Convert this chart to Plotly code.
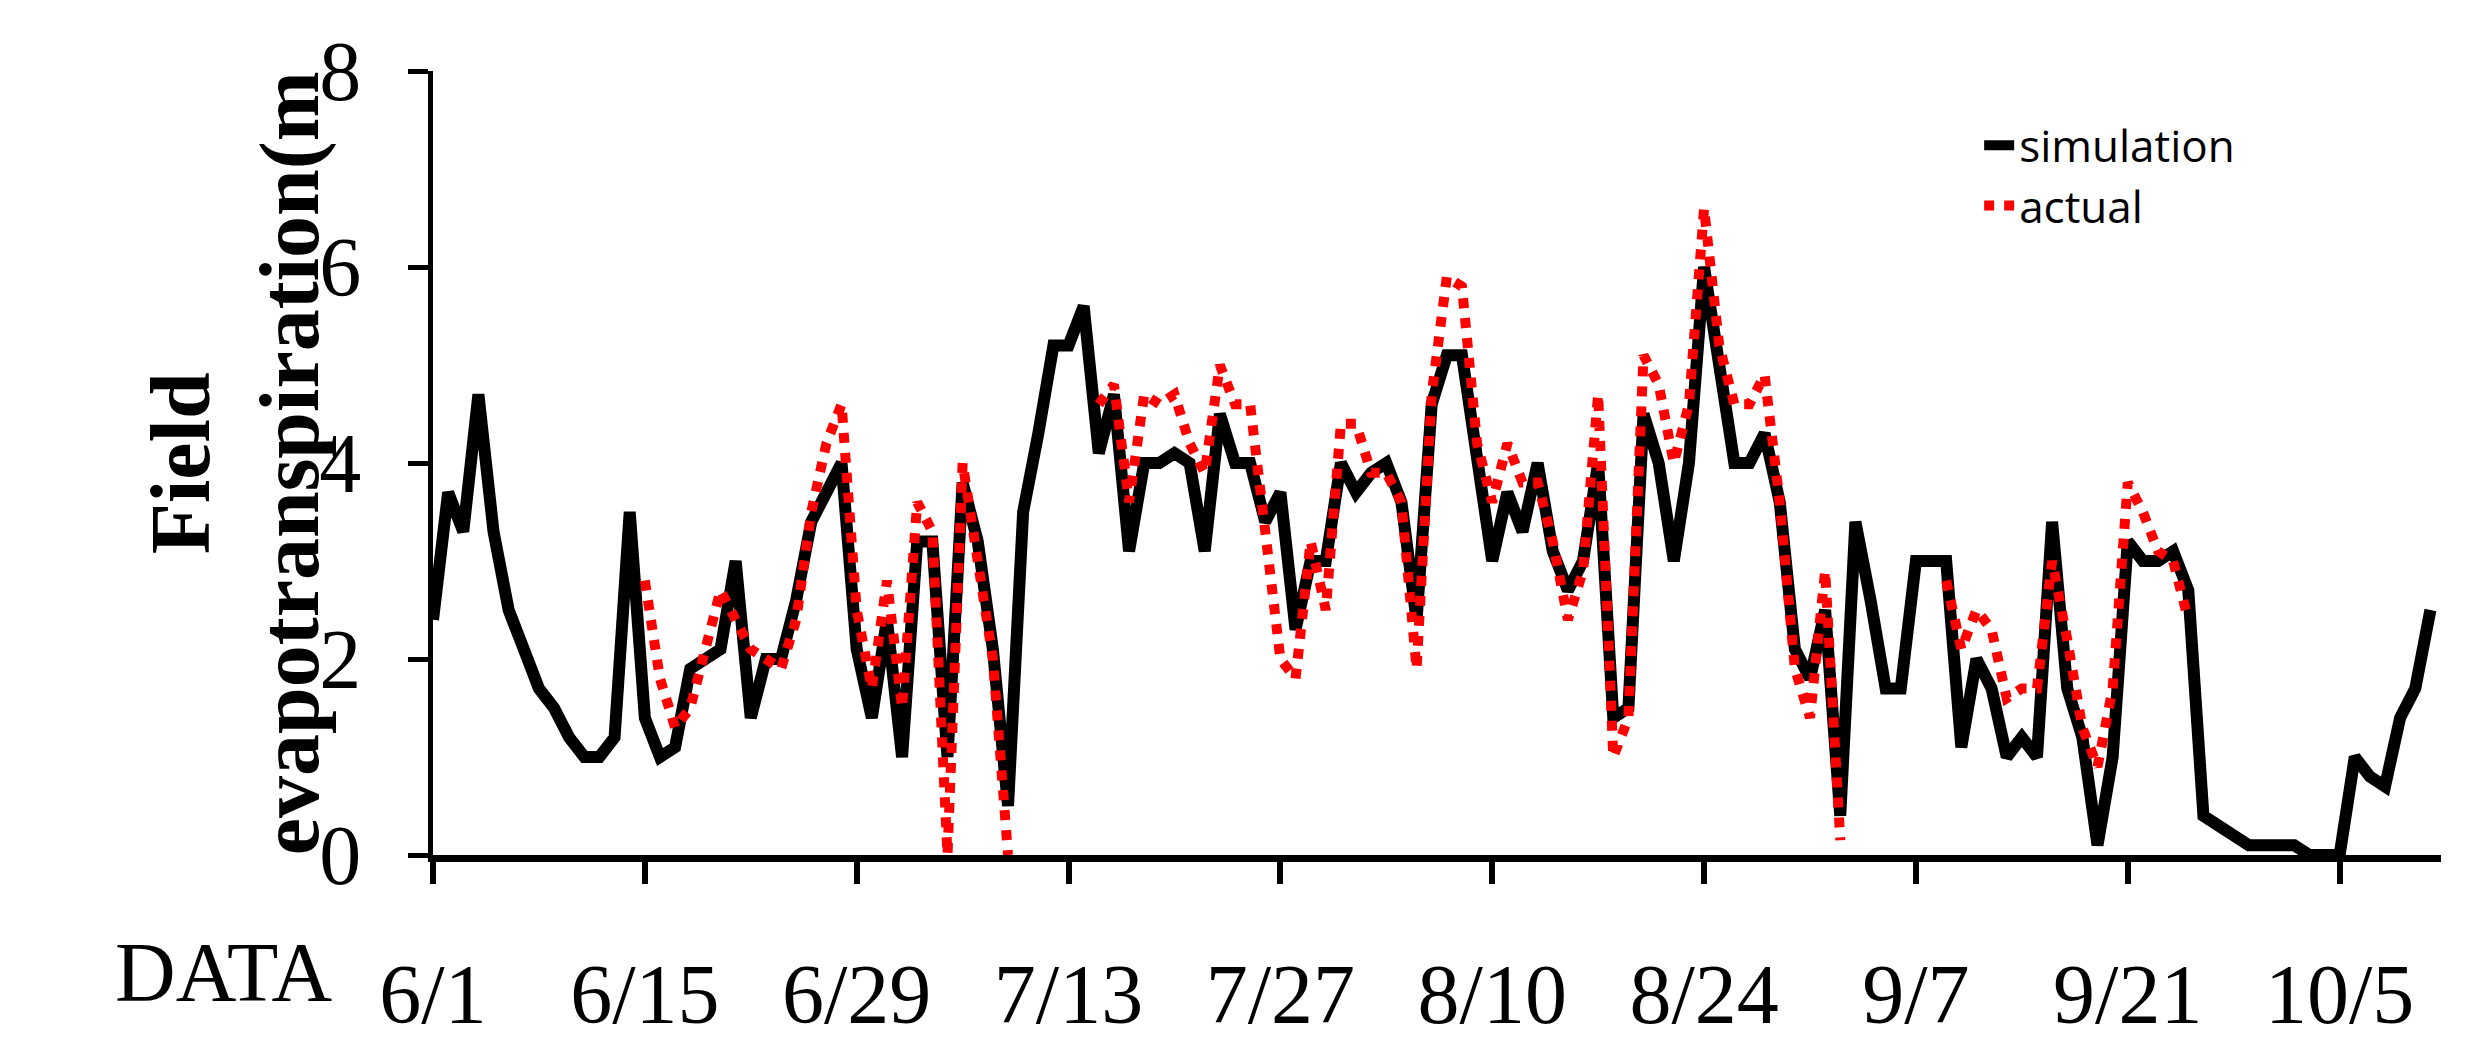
import plotly.graph_objects as go

days = list(range(133))
simulation = [2.4,3.7,3.3,4.7,3.3,2.5,2.1,1.7,1.5,1.2,1.0,1.0,1.2,3.5,1.4,1.0,1.1,1.9,2.0,2.1,
              3.0,1.4,2.0,2.0,2.6,3.4,3.7,4.0,2.1,1.4,2.4,1.0,3.2,3.2,1.0,3.8,3.2,2.1,0.5,3.5,
              4.3,5.2,5.2,5.6,4.1,4.7,3.1,4.0,4.0,4.1,4.0,3.1,4.5,4.0,4.0,3.4,3.7,2.3,3.0,3.0,
              4.0,3.7,3.9,4.0,3.6,2.4,4.6,5.1,5.1,4.0,3.0,3.7,3.3,4.0,3.1,2.7,3.0,4.0,1.4,1.5,
              4.5,4.0,3.0,4.0,6.0,5.0,4.0,4.0,4.3,3.6,2.1,1.8,2.5,0.4,3.4,2.6,1.7,1.7,3.0,3.0,
              3.0,1.1,2.0,1.7,1.0,1.2,1.0,3.4,1.7,1.2,0.1,1.0,3.2,3.0,3.0,3.1,2.7,0.4,0.3,0.2,
              0.1,0.1,0.1,0.1,0.0,0.0,0.0,1.0,0.8,0.7,1.4,1.7,2.5]
N = None
actual = [N]*14 + [2.8,1.8,1.3,1.5,2.1,2.7,2.4,2.1,2.0,1.9,2.4,3.5,4.2,4.6,2.5,1.7,2.8,1.5,3.6,3.3,
          0.0,4.0,3.0,2.0,0.0,N,N,N,N,N,4.6,4.8,3.6,4.7,4.6,4.7,4.2,3.9,5.0,4.6,
          4.6,3.3,2.0,1.8,3.2,2.5,4.4,4.4,3.9,3.9,3.6,1.9,4.7,5.9,5.8,4.2,3.6,4.2,3.8,3.8,
          3.2,2.4,2.9,4.7,1.0,1.4,5.1,4.8,4.0,4.6,6.6,5.2,4.6,4.6,4.9,3.6,1.9,1.4,2.9,0.15,
          N,N,N,N,N,N,2.8,2.1,2.5,2.3,1.6,1.7,1.7,3.0,2.2,1.3,0.9,1.7,3.8,3.5,3.1,3.0,2.4]
actual = actual + [N]*(133-len(actual))
tick_vals = [0,14,28,42,56,70,84,98,112,126]
tick_text = ["6/1","6/15","6/29","7/13","7/27","8/10","8/24","9/7","9/21","10/5"]

fig = go.Figure()
fig.add_trace(go.Scatter(x=days, y=simulation, mode="lines", name="simulation",
                         line=dict(color="black", width=12)))
fig.add_trace(go.Scatter(x=days, y=actual, mode="lines", name="actual",
                         line=dict(color="#ff0000", width=10, dash="dot")))
serif = "Liberation Serif"
fig.update_layout(
    width=2485, height=1045, paper_bgcolor="white", plot_bgcolor="white",
    margin=dict(l=425, r=52, t=63, b=170),
    legend=dict(x=0.77, y=0.95, xanchor="left", yanchor="top", bgcolor="rgba(0,0,0,0)",
                font=dict(family="Open Sans", size=44, color="black"), tracegroupgap=30),
    xaxis=dict(range=[0, 132.7], tickvals=tick_vals, ticktext=tick_text, showgrid=False,
               showline=True, linecolor="black", linewidth=7, ticks="outside", ticklen=22,
               tickwidth=6, tickcolor="black", ticklabelstandoff=38,
               tickfont=dict(family=serif, size=84, color="black"), zeroline=False),
    yaxis=dict(range=[0, 8], tickvals=[0,2,4,6,8], showgrid=False, showline=True,
               linecolor="black", linewidth=5, ticks="outside", ticklen=20, tickwidth=5,
               tickcolor="black", ticklabelstandoff=30,
               tickfont=dict(family=serif, size=84, color="black"), zeroline=False),
    annotations=[
        dict(text="<b>Field<br>evapotranspiration(m</b>", xref="paper", yref="paper",
             x=-0.15, y=0.5, textangle=-90, showarrow=False, align="center",
             font=dict(family=serif, size=84, color="black")),
        dict(text="DATA", xref="paper", yref="paper", x=-0.104, y=-0.15, xanchor="center",
             yanchor="middle", showarrow=False, font=dict(family=serif, size=84, color="black")),
    ],
)
fig.write_html("out.html")
